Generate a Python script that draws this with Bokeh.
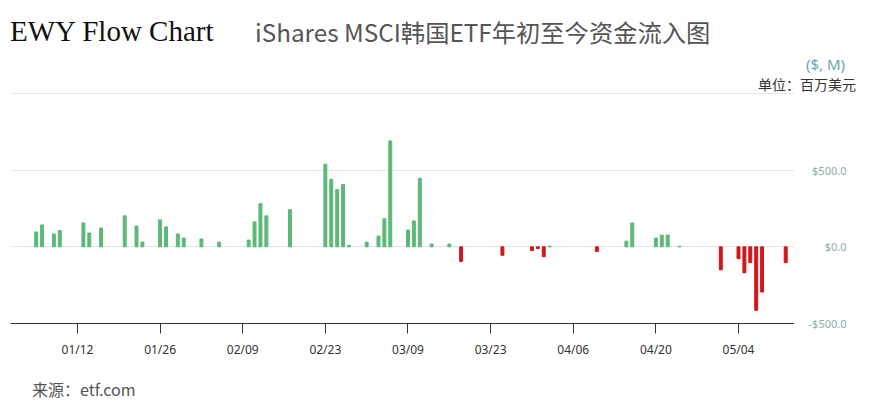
import pandas as pd
from bokeh.plotting import figure
from bokeh.models import Range1d, FixedTicker, DatetimeTickFormatter, ColumnDataSource, Div
from bokeh.layouts import column, row
from bokeh.embed import file_html
from bokeh.resources import INLINE

# ---- data (USD millions) ----
dates = ["2026-01-05", "2026-01-06", "2026-01-08", "2026-01-09", "2026-01-13", "2026-01-14",
         "2026-01-16", "2026-01-20", "2026-01-22", "2026-01-23", "2026-01-26", "2026-01-27",
         "2026-01-29", "2026-01-30", "2026-02-02", "2026-02-05", "2026-02-10", "2026-02-11",
         "2026-02-12", "2026-02-13", "2026-02-17", "2026-02-23", "2026-02-24", "2026-02-25",
         "2026-02-26", "2026-02-27", "2026-03-02", "2026-03-04", "2026-03-05", "2026-03-06",
         "2026-03-09", "2026-03-10", "2026-03-11", "2026-03-13", "2026-03-16", "2026-03-18",
         "2026-03-25", "2026-03-30", "2026-03-31", "2026-04-01", "2026-04-02", "2026-04-10",
         "2026-04-15", "2026-04-16", "2026-04-20", "2026-04-21", "2026-04-22", "2026-04-24",
         "2026-05-01", "2026-05-04", "2026-05-05", "2026-05-06", "2026-05-07", "2026-05-08",
         "2026-05-12"]
flows = [97, 143, 84, 106, 156, 90,
         123, 202, 136, 31, 176, 130,
         84, 57, 51, 31, 44, 163,
         282, 202, 242, 539, 440, 374,
         407, 9, 31, 70, 183, 691,
         110, 169, 447, 18, 18, -95,
         -55, -24, -11, -64, 4, -30,
         37, 156, 57, 77, 77, 4,
         -150, -77, -169, -103, -414, -295,
         -103]
x_tick_dates = ["2026-01-12", "2026-01-26", "2026-02-09", "2026-02-23", "2026-03-09",
                "2026-03-23", "2026-04-06", "2026-04-20", "2026-05-04"]
y_grid_ticks = [-500, 0, 500, 1000]
y_label_ticks = [-500, 0, 500]
y_label_texts = {-500: "-$500.0", 0: "$0.0", 500: "$500.0"}

title_en = "EWY Flow Chart"
title_cn = "iShares MSCI韩国ETF年初至今资金流入图"
unit_top = "($, M)"
unit_cn = "单位：百万美元"
source_text = "来源：etf.com"

GREEN = "#5cb877"
RED = "#d0161a"

Y_MIN, Y_MAX = -500, 1000
x_start = pd.Timestamp("2025-12-31 15:36")
x_end = pd.Timestamp("2026-05-13 11:45")

# ---- layout constants ----
HEADER_H = 91
PX_PER_500 = 76.67
FRAME_H = 231            # 230 px for -500..1000 plus 1 px headroom so the top grid line shows
TOP_B = 1
BOT_B = 45
MAIN_W = 794
SIDE_W = 89
FIG_H = TOP_B + FRAME_H + BOT_B
FOOTER_H = 412 - HEADER_H - FIG_H

x = pd.to_datetime(dates)
colors = [GREEN if v >= 0 else RED for v in flows]
src = ColumnDataSource(dict(x=x, top=flows, color=colors))

upp = 500 / PX_PER_500
y_range = Range1d(Y_MIN, Y_MAX + upp)

p = figure(width=MAIN_W, height=FIG_H, x_axis_type="datetime",
           x_range=Range1d(x_start, x_end), y_range=y_range,
           output_backend="svg", toolbar_location=None,
           min_border_left=10, min_border_right=0, min_border_top=TOP_B, min_border_bottom=BOT_B)
p.outline_line_color = None

day_ms = 86400000
p.vbar(x="x", top="top", bottom=0, width=0.5 * day_ms, color="color", source=src)

xa = p.xaxis[0]
xa.ticker = FixedTicker(ticks=[pd.Timestamp(d).value / 1e6 for d in x_tick_dates])
fmt = "%m/%d"
xa.formatter = DatetimeTickFormatter(days=fmt, months=fmt, hours=fmt, years=fmt,
                                     microseconds=fmt, milliseconds=fmt, seconds=fmt,
                                     minsec=fmt, minutes=fmt, hourmin=fmt)
xa.axis_line_color = "#333333"
xa.major_tick_line_color = "#333333"
xa.major_tick_out = 10
xa.major_tick_in = 0
xa.minor_tick_line_color = None
xa.major_label_text_font = "Noto Sans"
xa.major_label_text_font_size = "12px"
xa.major_label_text_color = "#333333"
xa.major_label_standoff = 7
p.xgrid.grid_line_color = None

ya = p.yaxis[0]
ya.ticker = FixedTicker(ticks=y_grid_ticks)
ya.visible = False
p.ygrid.grid_line_color = "#e6e6e6"

# ---- side panel: a left axis there gives right-aligned value labels on the same scale ----
side = figure(width=SIDE_W, height=FIG_H, x_range=Range1d(0, 1), y_range=y_range,
              output_backend="svg", toolbar_location=None,
              x_axis_location=None, y_axis_location="left",
              min_border_left=52, min_border_right=0, min_border_top=TOP_B, min_border_bottom=BOT_B)
side.outline_line_color = None
side.xgrid.visible = False
side.ygrid.visible = False
sa = side.yaxis[0]
sa.ticker = FixedTicker(ticks=y_label_ticks)
sa.major_label_overrides = y_label_texts
sa.axis_line_color = None
sa.major_tick_line_color = None
sa.minor_tick_line_color = None
sa.major_tick_in = 0
sa.major_tick_out = 0
sa.major_label_standoff = 0
sa.major_label_text_font = "Noto Sans"
sa.major_label_text_font_size = "11px"
sa.major_label_text_color = "#8aaeab"

header = Div(width=883, height=HEADER_H, margin=0, text=f"""
<div style="position:relative;width:883px;height:{HEADER_H}px;">
  <span style="position:absolute;left:10px;top:17px;font-family:'Liberation Serif';font-size:29px;line-height:1;color:#111111;white-space:nowrap;">{title_en}</span>
  <span style="position:absolute;left:255px;top:20px;font-family:'Noto Sans CJK SC';font-size:24.3px;line-height:1;color:#555555;white-space:nowrap;">{title_cn}</span>
  <span style="position:absolute;left:806px;top:57px;font-family:'Noto Sans';font-size:15px;line-height:1;color:#5fa8b5;white-space:nowrap;">{unit_top}</span>
  <span style="position:absolute;left:758px;top:77px;font-family:'Noto Sans CJK SC';font-size:14px;line-height:1;color:#333333;white-space:nowrap;">{unit_cn}</span>
</div>""")

footer = Div(width=883, height=FOOTER_H, margin=0, text=f"""
<div style="position:relative;width:883px;height:{FOOTER_H}px;">
  <span style="position:absolute;left:32px;top:13px;font-family:'Noto Sans CJK SC';font-size:16px;line-height:1;color:#555555;white-space:nowrap;">{source_text}</span>
</div>""")

layout = column(header, row(p, side, spacing=0), footer, spacing=0)

open("out.html", "w").write(file_html(layout, INLINE))
